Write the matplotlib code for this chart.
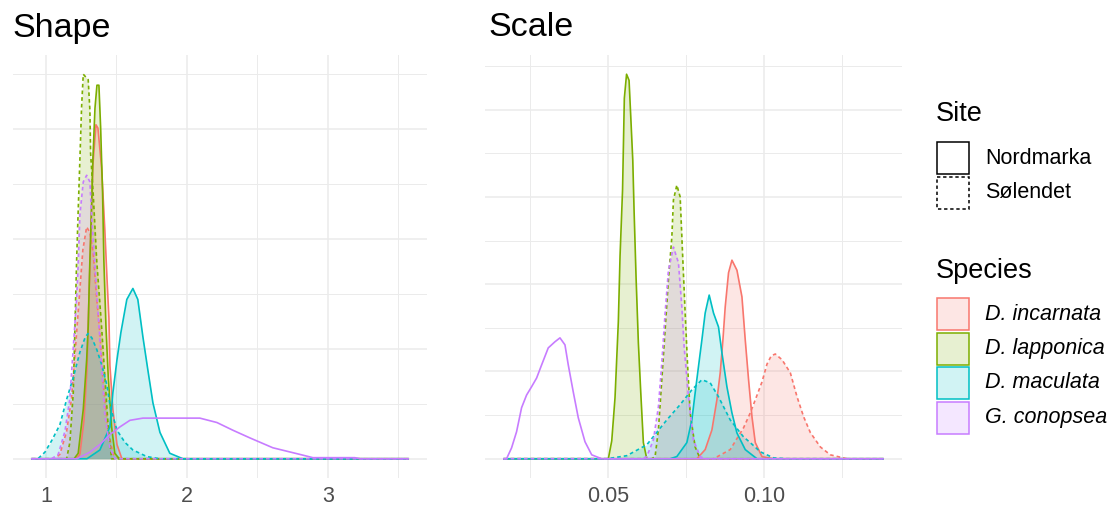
import matplotlib.pyplot as plt
from matplotlib.patches import Rectangle
from matplotlib.ticker import MultipleLocator
import numpy as np

plt.rcParams['font.family'] = ['Liberation Sans', 'DejaVu Sans']

species = ["D. incarnata", "D. lapponica", "D. maculata", "G. conopsea"]
sites = ["Nordmarka", "Sølendet"]
species_colours = ["#F8766D", "#7CAE00", "#00BFC4", "#C77CFF"]

# range over which the densities were evaluated (curves sit at zero outside the read points)
shape_range = [0.90, 3.57]
scale_range = [0.0167, 0.138]

# ---- Shape: values (x = shape, y = density)
shape_inc_nord_x = [1.215, 1.241, 1.270, 1.291, 1.305, 1.319, 1.333, 1.355, 1.369, 1.395, 1.418, 1.433, 1.447, 1.454, 1.475, 1.504, 1.539]
shape_inc_nord_y = [0.0, 0.04, 0.35, 0.81, 1.45, 2.08, 2.67, 3.04, 3.01, 2.65, 2.08, 1.65, 1.28, 0.85, 0.45, 0.13, 0.0]
shape_inc_sol_x = [1.060, 1.099, 1.147, 1.182, 1.201, 1.218, 1.241, 1.262, 1.289, 1.312, 1.335, 1.360, 1.383, 1.406, 1.442, 1.477, 1.525]
shape_inc_sol_y = [0.0, 0.04, 0.25, 0.55, 0.85, 1.15, 1.54, 1.90, 2.11, 2.06, 1.88, 1.46, 1.15, 0.70, 0.25, 0.04, 0.0]

shape_lap_nord_x = [1.200, 1.229, 1.265, 1.289, 1.300, 1.312, 1.324, 1.333, 1.348, 1.362, 1.376, 1.388, 1.402, 1.411, 1.426, 1.442, 1.466, 1.489, 1.520]
shape_lap_nord_y = [0.0, 0.05, 0.45, 0.90, 1.20, 1.81, 2.29, 2.72, 3.19, 3.40, 3.40, 3.02, 2.42, 1.81, 1.20, 0.75, 0.29, 0.05, 0.0]
shape_lap_sol_x = [1.147, 1.170, 1.194, 1.206, 1.218, 1.229, 1.241, 1.253, 1.265, 1.300, 1.312, 1.317, 1.335, 1.360, 1.395, 1.418, 1.442, 1.466]
shape_lap_sol_y = [0.0, 0.15, 0.60, 1.20, 1.81, 2.26, 2.72, 3.20, 3.50, 3.45, 3.17, 2.78, 2.42, 1.81, 1.20, 0.75, 0.29, 0.0]

shape_mac_nord_x = [1.291, 1.383, 1.454, 1.475, 1.504, 1.532, 1.574, 1.617, 1.652, 1.688, 1.723, 1.759, 1.809, 1.879, 1.972]
shape_mac_nord_y = [0.0, 0.08, 0.29, 0.60, 0.90, 1.15, 1.45, 1.55, 1.45, 1.11, 0.81, 0.51, 0.24, 0.05, 0.0]
shape_mac_sol_x = [0.943, 0.993, 1.043, 1.099, 1.147, 1.194, 1.241, 1.277, 1.298, 1.326, 1.362, 1.397, 1.433, 1.454, 1.504, 1.560, 1.617, 1.716, 1.809]
shape_mac_sol_y = [0.0, 0.06, 0.17, 0.31, 0.54, 0.74, 0.97, 1.10, 1.14, 1.10, 0.99, 0.85, 0.67, 0.49, 0.26, 0.15, 0.08, 0.02, 0.0]

shape_con_nord_x = [1.220, 1.312, 1.383, 1.454, 1.525, 1.596, 1.688, 2.092, 2.213, 2.326, 2.447, 2.610, 2.801, 2.894, 3.191, 3.230]
shape_con_nord_y = [0.0, 0.06, 0.13, 0.22, 0.29, 0.35, 0.37, 0.37, 0.33, 0.26, 0.19, 0.10, 0.04, 0.01, 0.01, 0.0]
shape_con_sol_x = [1.040, 1.087, 1.135, 1.170, 1.194, 1.218, 1.229, 1.241, 1.265, 1.289, 1.312, 1.324, 1.348, 1.371, 1.395, 1.418, 1.454, 1.489]
shape_con_sol_y = [0.0, 0.04, 0.25, 0.55, 1.01, 1.46, 1.76, 2.22, 2.52, 2.58, 2.52, 2.22, 1.76, 1.31, 0.85, 0.40, 0.10, 0.0]

# ---- Scale: values (x = scale, y = density)
scale_inc_nord_x = [0.07843, 0.08109, 0.08324, 0.08484, 0.08590, 0.08676, 0.08750, 0.08856, 0.08965, 0.09125, 0.09285, 0.09391, 0.09497, 0.09606, 0.09712, 0.09926, 0.10288]
scale_inc_nord_y = [0.0, 2.1, 6.6, 13.5, 19.7, 27.2, 34.8, 42.6, 45.5, 43.2, 37.1, 27.2, 18.1, 9.6, 3.7, 0.5, 0.0]
scale_inc_sol_x = [0.08375, 0.08910, 0.09337, 0.09551, 0.09712, 0.09926, 0.10087, 0.10224, 0.10353, 0.10567, 0.10833, 0.11048, 0.11260, 0.11474, 0.11795, 0.12115, 0.12650]
scale_inc_sol_y = [0.0, 2.1, 7.1, 10.5, 13.5, 17.6, 21.7, 23.6, 24.0, 22.7, 19.7, 14.2, 9.6, 6.0, 2.7, 0.9, 0.0]

scale_lap_nord_x = [0.05010, 0.05119, 0.05224, 0.05330, 0.05385, 0.05465, 0.05522, 0.05593, 0.05673, 0.05728, 0.05792, 0.05833, 0.05897, 0.05971, 0.06048, 0.06131, 0.06240]
scale_lap_nord_y = [0.0, 4.1, 14.0, 31.4, 46.5, 61.6, 82.6, 88.1, 86.7, 78.3, 68.4, 57.0, 41.6, 26.5, 15.1, 3.7, 0.0]
scale_lap_sol_x = [0.06400, 0.06506, 0.06612, 0.06721, 0.06827, 0.06933, 0.07042, 0.07093, 0.07202, 0.07308, 0.07394, 0.07468, 0.07542, 0.07628, 0.07788, 0.07949]
scale_lap_sol_y = [0.0, 0.5, 6.6, 18.1, 29.5, 41.0, 50.8, 59.3, 62.7, 60.0, 45.5, 33.4, 22.0, 10.5, 2.7, 0.0]

scale_mac_nord_x = [0.06987, 0.07202, 0.07522, 0.07683, 0.07788, 0.07894, 0.08003, 0.08109, 0.08237, 0.08375, 0.08535, 0.08644, 0.08804, 0.08965, 0.09125, 0.09391, 0.09766]
scale_mac_nord_y = [0.0, 0.5, 3.7, 8.9, 15.1, 21.1, 27.2, 33.4, 37.5, 33.4, 30.2, 24.3, 16.5, 10.5, 5.9, 2.1, 0.0]
scale_mac_sol_x = [0.04958, 0.05599, 0.06240, 0.06881, 0.07308, 0.07683, 0.08003, 0.08269, 0.08535, 0.08910, 0.09337, 0.09551, 0.09872, 0.10298, 0.10728]
scale_mac_sol_y = [0.0, 0.7, 3.2, 8.9, 12.4, 15.8, 18.1, 17.4, 14.2, 8.9, 5.0, 3.7, 1.6, 0.2, 0.0]

scale_con_nord_x = [0.01753, 0.01914, 0.02074, 0.02234, 0.02394, 0.02554, 0.02715, 0.02875, 0.03087, 0.03301, 0.03462, 0.03622, 0.03728, 0.03888, 0.04048, 0.04263, 0.04478, 0.04798]
scale_con_nord_y = [0.0, 2.5, 6.2, 11.7, 14.6, 16.5, 18.5, 21.5, 25.4, 26.8, 27.7, 26.1, 21.5, 15.3, 9.4, 3.9, 0.9, 0.0]
scale_con_sol_x = [0.06100, 0.06240, 0.06452, 0.06612, 0.06721, 0.06827, 0.06933, 0.07093, 0.07253, 0.07362, 0.07436, 0.07574, 0.07734, 0.07949, 0.08100]
scale_con_sol_y = [0.0, 0.5, 4.3, 11.9, 22.0, 33.4, 43.2, 48.5, 44.9, 34.8, 25.6, 14.2, 4.3, 0.5, 0.0]

shape_curves = [
    (0, 0, shape_inc_nord_x, shape_inc_nord_y), (0, 1, shape_inc_sol_x, shape_inc_sol_y),
    (1, 0, shape_lap_nord_x, shape_lap_nord_y), (1, 1, shape_lap_sol_x, shape_lap_sol_y),
    (2, 0, shape_mac_nord_x, shape_mac_nord_y), (2, 1, shape_mac_sol_x, shape_mac_sol_y),
    (3, 0, shape_con_nord_x, shape_con_nord_y), (3, 1, shape_con_sol_x, shape_con_sol_y),
]
scale_curves = [
    (0, 0, scale_inc_nord_x, scale_inc_nord_y), (0, 1, scale_inc_sol_x, scale_inc_sol_y),
    (1, 0, scale_lap_nord_x, scale_lap_nord_y), (1, 1, scale_lap_sol_x, scale_lap_sol_y),
    (2, 0, scale_mac_nord_x, scale_mac_nord_y), (2, 1, scale_mac_sol_x, scale_mac_sol_y),
    (3, 0, scale_con_nord_x, scale_con_nord_y), (3, 1, scale_con_sol_x, scale_con_sol_y),
]

GRID = "#EBEBEB"
DASH = (0, (2.2, 1.8))


def draw_panel(ax, curves, xrange_, major, minor, ymajor, yminor, ticklabels):
    ymax = 0
    for sp, site, xs, ys in curves:
        xs = np.concatenate([[xrange_[0]], xs, [xrange_[1]]])
        ys = np.concatenate([[0.0], ys, [0.0]])
        col = species_colours[sp]
        # G. conopsea at Nordmarka shows no fill in the original
        if not (sp == 3 and site == 0):
            ax.fill_between(xs, ys, 0, color=col, alpha=0.18, lw=0)
        ax.plot(xs, ys, color=col, lw=1.2, ls='-' if site == 0 else DASH)
        ymax = max(ymax, max(ys))
    span = xrange_[1] - xrange_[0]
    ax.set_xlim(xrange_[0] - 0.05 * span, xrange_[1] + 0.05 * span)
    ax.set_ylim(-0.05 * ymax, 1.05 * ymax)
    ax.set_xticks(major)
    ax.set_xticklabels(ticklabels)
    ax.xaxis.set_minor_locator(MultipleLocator(minor))
    ax.yaxis.set_major_locator(MultipleLocator(ymajor))
    ax.yaxis.set_minor_locator(MultipleLocator(yminor))
    ax.set_yticklabels([])
    ax.grid(which='major', color=GRID, lw=1.1)
    ax.grid(which='minor', color=GRID, lw=0.7)
    ax.set_axisbelow(True)
    ax.tick_params(which='both', length=0)
    ax.tick_params(axis='x', labelsize=15.5, labelcolor='#4D4D4D', pad=6)
    for s in ax.spines.values():
        s.set_visible(False)


fig = plt.figure(figsize=(11.13, 5.12), dpi=100)
W, H = 1113, 512
ax1 = fig.add_axes([13 / W, 1 - 478 / H, 414 / W, 423 / H])
ax2 = fig.add_axes([485 / W, 1 - 478 / H, 417 / W, 423 / H])

draw_panel(ax1, shape_curves, shape_range, [1, 2, 3], 0.5, 1.0, 0.5, ["1", "2", "3"])
draw_panel(ax2, scale_curves, scale_range, [0.05, 0.10], 0.025, 20, 10, ["0.05", "0.10"])

fig.text(12 / W, 1 - 28 / H, "Shape", fontsize=24.5, va='center', ha='left')
fig.text(488 / W, 1 - 28 / H, "Scale", fontsize=24.5, va='center', ha='left')

# legend drawn in pixel space on an overlay
lg = fig.add_axes([0, 0, 1, 1])
lg.set_xlim(0, W)
lg.set_ylim(H, 0)
lg.axis('off')

lg.text(936, 114, "Site", fontsize=19.5, va='center', ha='left')
for i, site in enumerate(sites):
    y0 = 142 + i * 34.5
    lg.add_patch(Rectangle((937, y0), 32, 32, facecolor='white', edgecolor='black',
                           lw=1.1, ls='-' if i == 0 else DASH))
    lg.text(985, y0 + 16, site, fontsize=15.5, va='center', ha='left')

lg.text(936, 271, "Species", fontsize=19.5, va='center', ha='left')
for i, sp in enumerate(species):
    y0 = 298 + i * 34.5
    col = species_colours[i]
    lg.add_patch(Rectangle((937, y0), 32, 32, facecolor=col, alpha=0.18, lw=0))
    lg.add_patch(Rectangle((937, y0), 32, 32, facecolor='none', edgecolor=col, lw=1.1))
    lg.text(985, y0 + 16, sp, fontsize=15.5, va='center', ha='left', style='italic')

fig.savefig("out.png", dpi=100)
